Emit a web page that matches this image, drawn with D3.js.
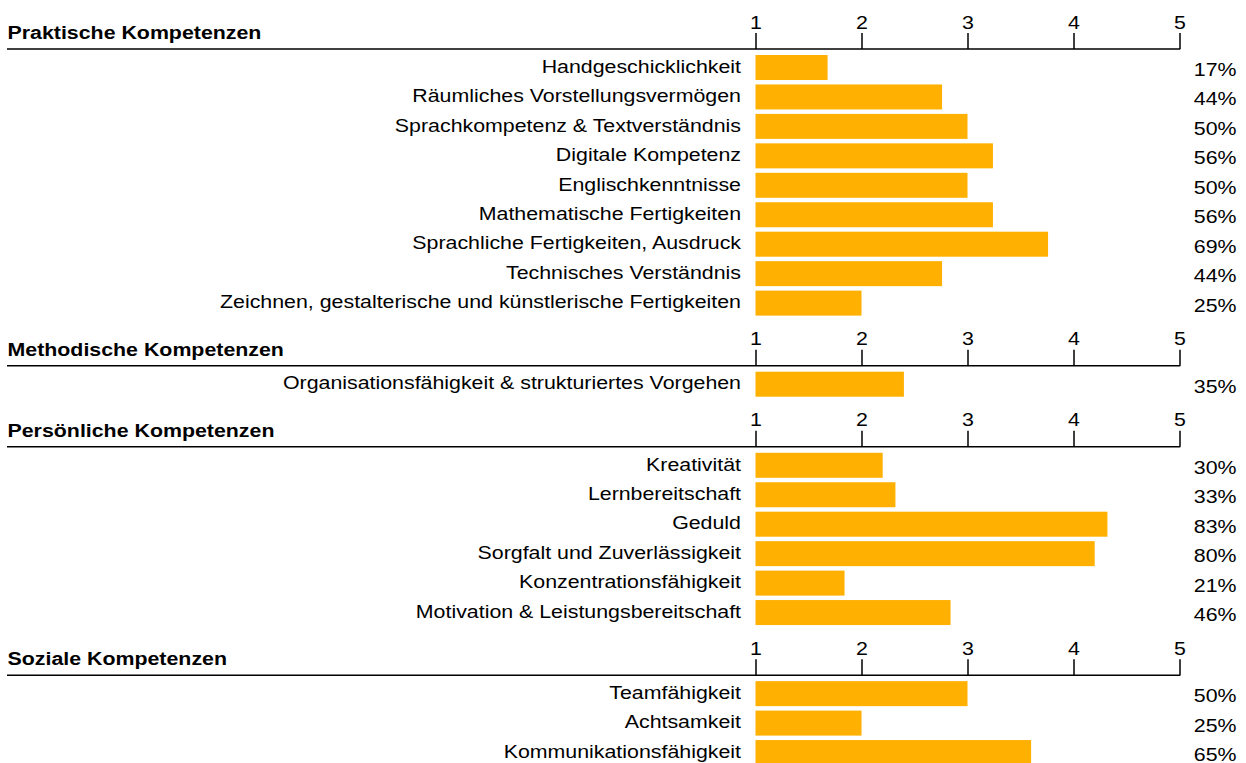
<!DOCTYPE html>
<html><head><meta charset="utf-8">
<script src="https://cdn.jsdelivr.net/npm/d3@7"></script>
<style>html,body{margin:0;padding:0;background:#fff;}svg{display:block;}</style>
</head><body>
<svg id="chart" width="1246" height="763"></svg>
<script>
// ---- data ----
const sectionTitles = ["Praktische Kompetenzen", "Methodische Kompetenzen", "Persönliche Kompetenzen", "Soziale Kompetenzen"];

const praktischeItems = ["Handgeschicklichkeit", "Räumliches Vorstellungsvermögen", "Sprachkompetenz & Textverständnis", "Digitale Kompetenz", "Englischkenntnisse", "Mathematische Fertigkeiten", "Sprachliche Fertigkeiten, Ausdruck", "Technisches Verständnis", "Zeichnen, gestalterische und künstlerische Fertigkeiten"];
const praktischeMeans = [1.68, 2.76, 3.00, 3.24, 3.00, 3.24, 3.76, 2.76, 2.00];
const praktischePct = ["17%", "44%", "50%", "56%", "50%", "56%", "69%", "44%", "25%"];

const methodischeItems = ["Organisationsfähigkeit & strukturiertes Vorgehen"];
const methodischeMeans = [2.40];
const methodischePct = ["35%"];

const persoenlicheItems = ["Kreativität", "Lernbereitschaft", "Geduld", "Sorgfalt und Zuverlässigkeit", "Konzentrationsfähigkeit", "Motivation & Leistungsbereitschaft"];
const persoenlicheMeans = [2.20, 2.32, 4.32, 4.20, 1.84, 2.84];
const persoenlichePct = ["30%", "33%", "83%", "80%", "21%", "46%"];

const sozialeItems = ["Teamfähigkeit", "Achtsamkeit", "Kommunikationsfähigkeit"];
const sozialeMeans = [3.00, 2.00, 3.60];
const sozialePct = ["50%", "25%", "65%"];

const tickValues = [1, 2, 3, 4, 5];

// ---- layout ----
const sections = [
  {title: sectionTitles[0], items: praktischeItems, means: praktischeMeans, pct: praktischePct},
  {title: sectionTitles[1], items: methodischeItems, means: methodischeMeans, pct: methodischePct},
  {title: sectionTitles[2], items: persoenlicheItems, means: persoenlicheMeans, pct: persoenlichePct},
  {title: sectionTitles[3], items: sozialeItems, means: sozialeMeans, pct: sozialePct}
];

const FONT = "'Liberation Sans', Arial, Helvetica, sans-serif";
const FS = 18.5, SX = 1.155;
const firstTop = 55, rowStep = 29.45, sectionGap = 51.65, barH = 25;
const x = d3.scaleLinear().domain([1, 5]).range([755.5, 1179.5]);

const svg = d3.select("#chart");

function txt(g, tx, ty, s, anchor, bold) {
  return g.append("text")
    .attr("transform", `translate(${tx},${ty}) scale(${SX},1)`)
    .attr("text-anchor", anchor)
    .attr("font-family", FONT)
    .attr("font-size", FS)
    .attr("font-weight", bold ? "bold" : "normal")
    .attr("fill", "#000")
    .text(s);
}

let row = 0;
sections.forEach((sec, si) => {
  const top0 = firstTop + row * rowStep + si * sectionGap;
  const axisY = top0 - 6;
  const g = svg.append("g");

  // header + axis
  txt(g, 7.5, axisY - 10, sec.title, "start", true);
  const axis = d3.axisTop(x).tickValues(tickValues).tickSize(16).tickPadding(4).tickFormat(d3.format("d"));
  const ag = g.append("g").attr("transform", `translate(0,${axisY})`).call(axis);
  ag.select(".domain").remove();
  ag.selectAll(".tick line").attr("stroke", "#000").attr("stroke-width", 1.5);
  ag.selectAll(".tick text").remove();
  ag.selectAll(".tick").each(function(d) {
    txt(d3.select(this), 0, -20.5, d3.format("d")(d), "middle", false);
  });
  g.append("line").attr("x1", 7).attr("x2", x(5) + 0.75)
    .attr("y1", axisY).attr("y2", axisY)
    .attr("stroke", "#000").attr("stroke-width", 1.5);

  const y = d3.scaleLinear().domain([0, 1]).range([top0, top0 + rowStep]);
  sec.items.forEach((name, i) => {
    const t = y(i);
    g.append("rect").attr("x", x(1)).attr("y", t)
      .attr("width", x(sec.means[i]) - x(1)).attr("height", barH)
      .attr("fill", "#ffb000");
    txt(g, 741, t + 17.7, name, "end", false);
    txt(g, 1236.5, t + 21, sec.pct[i], "end", false);
  });
  row += sec.items.length;
});
</script>
</body></html>
